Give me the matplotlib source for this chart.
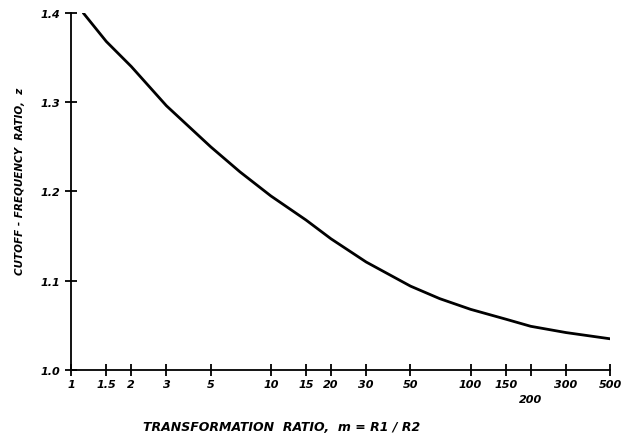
import numpy as np
import matplotlib.pyplot as plt

# values
m = [1.15, 1.5, 2, 3, 5, 7, 10, 15, 20, 30, 50, 70, 100, 150, 200, 300, 500]
z = [1.400, 1.368, 1.340, 1.296, 1.250, 1.222, 1.195, 1.168, 1.147, 1.121,
     1.094, 1.080, 1.068, 1.057, 1.049, 1.042, 1.035]

xticks = [1, 1.5, 2, 3, 5, 10, 15, 20, 30, 50, 100, 150, 200, 300, 500]
xlabels = ["1", "1.5", "2", "3", "5", "10", "15", "20", "30", "50",
           "100", "150", "200", "300", "500"]
yticks = [1.0, 1.1, 1.2, 1.3, 1.4]
ylabels = ["1.0", "1.1", "1.2", "1.3", "1.4"]

fig = plt.figure(figsize=(6.35, 4.35), dpi=100)
ax = fig.add_axes([0.112, 0.147, 0.849, 0.821])

ax.plot(m, z, color="black", lw=2.0, solid_capstyle="round")

ax.set_xscale("log")
ax.set_xlim(1, 500)
ax.set_ylim(1.0, 1.4)
ax.minorticks_off()

tfont = dict(family="DejaVu Sans", style="italic", weight="bold", size=8)
ax.set_xticks(xticks)
ax.set_xticklabels(xlabels, **tfont)
ax.set_yticks(yticks)
ax.set_yticklabels(ylabels, **tfont)

for s in ["top", "right"]:
    ax.spines[s].set_visible(False)
for s in ["left", "bottom"]:
    ax.spines[s].set_linewidth(1.3)

ax.tick_params(axis="both", direction="inout", length=9, width=1.3)
ax.tick_params(axis="x", pad=2)
ax.tick_params(axis="y", pad=3)

# the 200 label sits lower than the others
t200 = ax.xaxis.get_major_ticks()[xticks.index(200)]
t200.tick1line.set_markersize(14)
t200.set_pad(13)

lfont = dict(family="DejaVu Sans", style="italic", weight="bold", size=7.5)
ax.set_xlabel("TRANSFORMATION  RATIO,  m = R1 / R2", **dict(lfont, size=9))
ax.set_ylabel("CUTOFF - FREQUENCY  RATIO,  z", **lfont)
ax.xaxis.set_label_coords(0.39, -0.14)
ax.yaxis.set_label_coords(-0.085, 0.53)

fig.savefig("out.png", dpi=100)
